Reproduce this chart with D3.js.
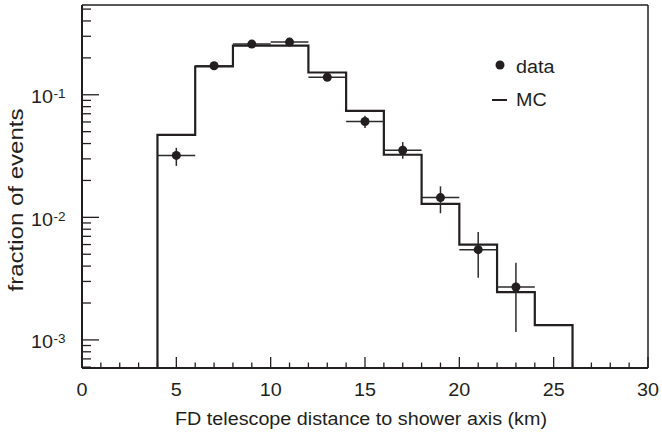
<!DOCTYPE html>
<html><head><meta charset="utf-8">
<script src="https://cdn.jsdelivr.net/npm/d3@7/dist/d3.min.js"></script>
<style>body{margin:0;background:#fff}svg{display:block}text{font-family:"Liberation Sans",Arial,sans-serif;fill:#231f20}</style>
</head><body><svg id="c" width="662" height="434"></svg>
<script>
// ---- data ----
const mcEdges = [4, 6, 8, 10, 12, 14, 16, 18, 20, 22, 24, 26];
const mcValues = [0.047, 0.170, 0.252, 0.252, 0.152, 0.074, 0.0324, 0.0129, 0.0060, 0.00245, 0.00132];
const dataX = [5, 7, 9, 11, 13, 15, 17, 19, 21, 23];
const dataY = [0.032, 0.1725, 0.259, 0.269, 0.139, 0.0605, 0.0353, 0.0145, 0.00545, 0.0027];
const dataErrLow = [0.0263, 0.164, 0.247, 0.257, 0.132, 0.0535, 0.0301, 0.0108, 0.00322, 0.00116];
const dataErrHigh = [0.0369, 0.181, 0.271, 0.281, 0.146, 0.0674, 0.0411, 0.0179, 0.00759, 0.00427];
const binHalfWidth = 1;
const xMajorTicks = [0, 5, 10, 15, 20, 25, 30];
const yDecades = [-3, -2, -1];
const xTitle = "FD telescope distance to shower axis (km)";
const yTitle = "fraction of events";
const legendLabels = ["data", "MC"];

// ---- layout ----
const L = 82, R = 648, T = 5, B = 368;
const ink = "#231f20";
const svg = d3.select("#c");
const x = d3.scaleLinear().domain([0, 30]).range([L, R]);
const y = d3.scaleLog().domain([5.9e-4, 0.54]).range([B, T]);
const yc = v => Math.max(T, Math.min(B, y(v)));
const SX = 1.13, FS = 17.5;

// MC histogram
const pts = [[x(mcEdges[0]), B]];
mcValues.forEach((v, i) => {
  pts.push([x(mcEdges[i]), yc(v)]);
  pts.push([x(mcEdges[i + 1]), yc(v)]);
});
pts.push([x(mcEdges[mcEdges.length - 1]), B]);
svg.append("path").attr("d", d3.line()(pts)).attr("fill", "none")
  .attr("stroke", ink).attr("stroke-width", 2.2).attr("stroke-linejoin", "miter");

// data error bars
const eg = svg.append("g").attr("stroke", "#2b2b2b").attr("stroke-width", 1.5);
dataX.forEach((xv, i) => {
  eg.append("line").attr("x1", x(xv - binHalfWidth)).attr("x2", x(xv + binHalfWidth))
    .attr("y1", y(dataY[i])).attr("y2", y(dataY[i]));
  eg.append("line").attr("x1", x(xv)).attr("x2", x(xv))
    .attr("y1", yc(dataErrLow[i])).attr("y2", yc(dataErrHigh[i]));
});
svg.append("g").selectAll("circle").data(dataX).join("circle")
  .attr("cx", d => x(d)).attr("cy", (d, i) => y(dataY[i])).attr("r", 4.5).attr("fill", ink);

// frame
const fg = svg.append("g").attr("stroke", ink).attr("fill", "none");
fg.append("line").attr("x1", L).attr("x2", R).attr("y1", T).attr("y2", T).attr("stroke-width", 1.5);
fg.append("line").attr("x1", R).attr("x2", R).attr("y1", T).attr("y2", B).attr("stroke-width", 1.5);
fg.append("line").attr("x1", L).attr("x2", R).attr("y1", B).attr("y2", B).attr("stroke-width", 2);
fg.append("line").attr("x1", L).attr("x2", L).attr("y1", T).attr("y2", B).attr("stroke-width", 2);

// x ticks
const tg = svg.append("g").attr("stroke", ink).attr("stroke-width", 1.3);
d3.range(0, 31, 1).forEach(v => {
  const major = v % 5 === 0;
  tg.append("line").attr("x1", x(v)).attr("x2", x(v)).attr("y1", B).attr("y2", B - (major ? 11 : 5.5));
});
xMajorTicks.forEach(v => {
  svg.append("text").attr("transform", `translate(${x(v)},396) scale(${SX},1)`)
    .attr("text-anchor", "middle").attr("font-size", FS).text(v);
});
// y ticks
const [y0, y1] = y.domain();
for (let d = -4; d <= 0; d++) {
  for (let k = 1; k <= 9; k++) {
    const v = k * Math.pow(10, d);
    if (v < y0 || v > y1) continue;
    tg.append("line").attr("x1", L).attr("x2", L + (k === 1 ? 17 : 9)).attr("y1", y(v)).attr("y2", y(v));
  }
}
yDecades.forEach(d => {
  const yy = y(Math.pow(10, d));
  svg.append("text").attr("transform", `translate(53,${yy + 8.5}) scale(${SX},1)`)
    .attr("text-anchor", "end").attr("font-size", FS).text("10");
  svg.append("text").attr("transform", `translate(53.5,${yy + 3.5}) scale(${SX},1)`)
    .attr("text-anchor", "start").attr("font-size", 12).text("-" + Math.abs(d));
});

// titles
svg.append("text").attr("x", 361).attr("y", 425).attr("text-anchor", "middle")
  .attr("font-size", FS).attr("textLength", 372).attr("lengthAdjust", "spacingAndGlyphs").text(xTitle);
svg.append("text").attr("transform", "translate(23,200) rotate(-90)").attr("text-anchor", "middle")
  .attr("font-size", 20).attr("textLength", 183).attr("lengthAdjust", "spacingAndGlyphs").text(yTitle);

// legend
svg.append("circle").attr("cx", 500).attr("cy", 65).attr("r", 4.5).attr("fill", ink);
svg.append("line").attr("x1", 492).attr("x2", 507).attr("y1", 100).attr("y2", 100).attr("stroke", ink).attr("stroke-width", 2);
svg.append("text").attr("transform", `translate(516,72.5) scale(${SX},1)`).attr("font-size", FS).text(legendLabels[0]);
svg.append("text").attr("transform", `translate(516,105.5) scale(${SX},1)`).attr("font-size", FS).text(legendLabels[1]);
</script></body></html>
